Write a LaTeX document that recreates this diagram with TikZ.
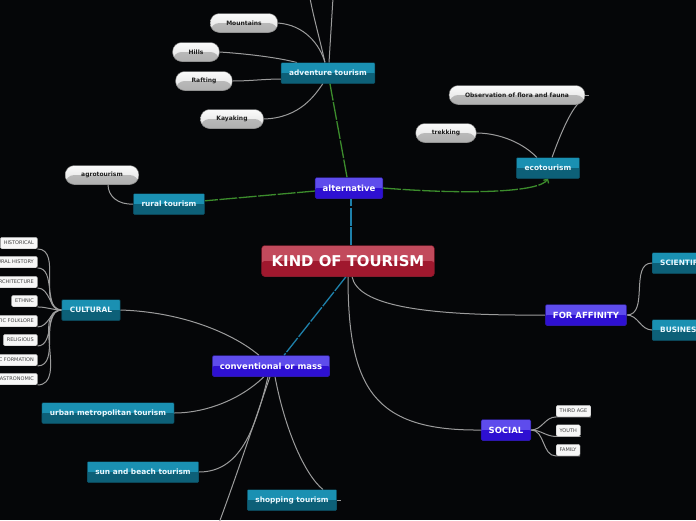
\documentclass[tikz,border=0pt]{standalone}
\usepackage{fontspec}
\setmainfont{DejaVu Sans}
\usetikzlibrary{arrows.meta}
\pgfdeclarelayer{background}
\pgfsetlayers{background,main}

\definecolor{bgblack}{HTML}{050608}
\definecolor{linegray}{HTML}{9C9C9C}
\definecolor{tealtop}{HTML}{1A90B2}
\definecolor{tealbot}{HTML}{0D6078}
\definecolor{tealrim}{HTML}{0A4A5E}
\definecolor{violtop}{HTML}{5E4CEC}
\definecolor{violbot}{HTML}{2E10D2}
\definecolor{violrim}{HTML}{22108E}
\definecolor{redtop}{HTML}{C24A5C}
\definecolor{redbot}{HTML}{A0182E}
\definecolor{redrim}{HTML}{701020}
\definecolor{altgreen}{HTML}{3C8C2C}
\definecolor{massblue}{HTML}{1E80AA}
\definecolor{pillrim}{HTML}{6E6E6E}
\definecolor{tagrim}{HTML}{B0B0B0}

\tikzset{
  glossy/.style 2 args={fill=#1, path picture={
      \fill[#2] (path picture bounding box.west) rectangle (path picture bounding box.south east);}},
  rootbox/.style={glossy={redtop}{redbot}, draw=redrim, rounded corners=3pt,
      minimum height=31pt, inner xsep=10pt, inner ysep=0pt,
      text=white, font=\bfseries\fontsize{14.9}{16}\selectfont},
  groupbox/.style={glossy={violtop}{violbot}, draw=violrim, rounded corners=1.5pt,
      minimum height=21pt, inner xsep=7.5pt, inner ysep=0pt,
      text=white, font=\bfseries\fontsize{8.5}{9}\selectfont},
  topicbox/.style={glossy={tealtop}{tealbot}, draw=tealrim, rounded corners=0.8pt,
      minimum height=20.5pt, inner xsep=8pt, inner ysep=0pt,
      text=white!92!cyan, font=\bfseries\fontsize{7.4}{8}\selectfont},
  pillbox/.style={top color=gray!4, bottom color=gray!24,
      path picture={\shade[top color=gray!48, bottom color=gray!62]
        (path picture bounding box.west) rectangle (path picture bounding box.south east);},
      draw=pillrim, rounded corners=9pt, minimum height=19pt, inner xsep=16pt, inner ysep=0pt,
      text=black!88, font=\bfseries\fontsize{6}{7}\selectfont},
  tagbox/.style={fill=white!94!gray, draw=tagrim, rounded corners=1.5pt,
      minimum height=11.5pt, inner xsep=3.5pt, inner ysep=0pt,
      text=black!75, font=\fontsize{5}{6}\selectfont},
  branch/.style={draw=linegray, line width=1pt},
  altline/.style={draw=altgreen, line width=1.3pt, dash pattern=on 18pt off 1.5pt},
  massline/.style={draw=massblue, line width=1.3pt, dash pattern=on 18pt off 1.5pt},
}

\begin{document}
\begin{tikzpicture}[x=1pt,y=-1pt]
\useasboundingbox (0,0) rectangle (696,520);
\clip (0,0) rectangle (696,520);

% main branches
\node[rootbox] (root) at (348,261) {KIND OF TOURISM};
\node[groupbox] (alt) at (349,188) {alternative};
\node[groupbox] (conv) at (271,366) {conventional or mass};
\node[groupbox] (aff) at (586,315) {FOR AFFINITY};
\node[groupbox] (social) at (506,430) {SOCIAL};

% topics
\node[topicbox] (adv) at (328,73) {adventure tourism};
\node[topicbox] (eco) at (548,168) {ecotourism};
\node[topicbox] (rural) at (169,204) {rural tourism};
\node[topicbox] (cult) at (91,310) {CULTURAL};
\node[topicbox] (urban) at (108,413) {urban metropolitan tourism};
\node[topicbox] (sun) at (143,472) {sun and beach tourism};
\node[topicbox] (shop) at (292,500) {shopping tourism};
\node[topicbox, anchor=west] (sci) at (652,263) {SCIENTIFIC};
\node[topicbox, anchor=west] (busi) at (652,330) {BUSINESS};

% leaves
\node[pillbox] (mount) at (244,23) {Mountains};
\node[pillbox] (hills) at (196,52) {Hills};
\node[pillbox] (raft) at (204,81) {Rafting};
\node[pillbox] (kayak) at (232,119) {Kayaking};
\node[pillbox] (obs) at (517,95) {Observation of flora and fauna};
\node[pillbox] (trek) at (446,133) {trekking};
\node[pillbox] (agro) at (102,175) {agrotourism};

\node[tagbox, anchor=east] (hist) at (37.5,243) {HISTORICAL};
\node[tagbox, anchor=east] (nat) at (37.5,262) {NATURAL HISTORY};
\node[tagbox, anchor=east] (arch) at (37.5,282) {ARCHITECTURE};
\node[tagbox, anchor=east] (ethn) at (37.5,301) {ETHNIC};
\node[tagbox, anchor=east] (folk) at (37.5,321) {ARTISTIC FOLKLORE};
\node[tagbox, anchor=east] (relig) at (37.5,340) {RELIGIOUS};
\node[tagbox, anchor=east] (form) at (37.5,360) {ACADEMIC FORMATION};
\node[tagbox, anchor=east] (gastr) at (37.5,379) {GASTRONOMIC};

\node[tagbox, anchor=west] (third) at (556,411) {THIRD AGE};
\node[tagbox, anchor=west] (youth) at (556,430.5) {YOUTH};
\node[tagbox, anchor=west] (family) at (556,450) {FAMILY};

\coordinate (upa) at (310,-2);
\coordinate (upb) at (333,-2);
\coordinate (offbottom) at (219,523);

\begin{pgfonlayer}{background}
\fill[bgblack] (0,0) rectangle (696,520);

% root links
\draw[massline] ([xshift=3pt]root.north) -- ([xshift=2pt]alt.south);
\draw[massline] ([xshift=-2pt]root.south) -- ([xshift=13pt]conv.north);
\draw[branch] ([xshift=4pt]root.south) .. controls (358,305) and (420,316) .. (aff.west);
\draw[branch] (root.south) .. controls (348,390) and (375,431) .. (social.west);

% alternative
\draw[altline] (alt) -- (adv);
\draw[altline] (alt) -- (rural);
\draw[altline, -{Straight Barb[length=3pt,width=6pt]}] (alt.east)
  .. controls (470,195) and (540,192) .. (eco.south);

% adventure tourism
\draw[branch] (mount.east) .. controls (305,25) and (320,45) .. ([xshift=-3pt]adv.north);
\draw[branch] (hills.east) .. controls (250,54) and (280,58) .. ([xshift=-31pt]adv.north);
\draw[branch] (raft.east) .. controls (250,81) and (265,79) .. ([yshift=-6pt]adv.west);
\draw[branch] (kayak.east) .. controls (300,118) and (315,95) .. ([xshift=-5pt]adv.south);
\draw[branch] ([xshift=-3pt]adv.north) .. controls (320,40) and (313,15) .. (upa);
\draw[branch] ([xshift=1pt]adv.north) -- (upb);

% ecotourism
\draw[branch] ([xshift=4pt]eco.north) .. controls (560,135) and (570,112) .. ([xshift=-7pt,yshift=1pt]obs.south east);
\draw[branch] (obs.east) -- ++(4,0);
\draw[branch] ([xshift=-11pt]eco.north) .. controls (520,140) and (495,133) .. (trek.east);

% rural tourism
\draw[branch] (rural.west) .. controls (118,205) and (108,196) .. ([xshift=6pt]agro.south);

% cultural
\draw[branch] (cult.west) to[out=180,in=0] (hist.south east);
\draw[branch] (cult.west) to[out=180,in=0] (nat.south east);
\draw[branch] (cult.west) to[out=180,in=0] (arch.south east);
\draw[branch] (cult.west) to[out=180,in=0] (ethn.south east);
\draw[branch] (cult.west) to[out=180,in=0] (folk.south east);
\draw[branch] (cult.west) to[out=180,in=0] (relig.south east);
\draw[branch] (cult.west) to[out=180,in=0] (form.south east);
\draw[branch] (cult.west) to[out=180,in=0] (gastr.south east);

% conventional or mass
\draw[branch] (cult.east) .. controls (185,312) and (235,335) .. ([xshift=-12pt]conv.north);
\draw[branch] ([xshift=-7pt]conv.south) .. controls (240,400) and (205,413) .. (urban.east);
\draw[branch] ([xshift=-3pt]conv.south) .. controls (255,430) and (240,472) .. (sun.east);
\draw[branch] ([xshift=-1pt]conv.south) .. controls (255,420) and (235,480) .. (offbottom);
\draw[branch] ([xshift=4pt]conv.south) .. controls (285,430) and (305,475) .. ([xshift=31pt]shop.north);
\draw[branch] (shop.east) -- ++(4,0);

% for affinity
\draw[branch] (aff.east) to[out=0,in=180] (sci.west);
\draw[branch] (aff.east) to[out=0,in=180] (busi.west);

% social
\draw[branch] (social.east) to[out=0,in=180] (third.south west) -- (third.south east);
\draw[branch] (social.east) to[out=0,in=180] (youth.south west) -- (youth.south east);
\draw[branch] (social.east) to[out=0,in=180] (family.south west) -- (family.south east);
\end{pgfonlayer}
\end{tikzpicture}
\end{document}
